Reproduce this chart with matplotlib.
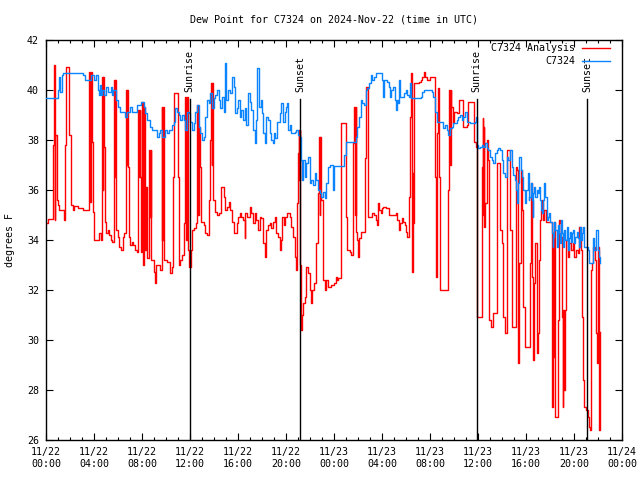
import matplotlib
matplotlib.use("Agg")
import matplotlib.pyplot as plt
import matplotlib.transforms as mtransforms

# ---------------- data (hours since 2024-11-22 00:00 UTC, degrees F) -------------
red_h = [0.00, 0.14, 0.61, 0.67, 0.72, 0.75, 0.78, 0.89, 0.97, 1.06, 1.50, 1.61, 1.67, 1.94,
         2.06, 2.22, 2.36, 2.64, 3.06, 3.61, 3.66, 3.72, 3.83, 3.89, 4.03, 4.39, 4.58, 4.67,
         4.72, 4.76, 4.81, 4.89, 5.00, 5.14, 5.28, 5.42, 5.50, 5.64, 5.69, 5.74, 5.78, 5.83,
         5.97, 6.11, 6.25, 6.39, 6.53, 6.67, 6.69, 6.74, 6.78, 6.81, 6.89, 7.00, 7.17, 7.28,
         7.44, 7.58, 7.67, 7.69, 7.75, 7.80, 7.83, 7.94,
         8.00, 8.08, 8.14, 8.22, 8.33, 8.42, 8.61, 8.69, 8.72, 8.78, 8.97, 9.06, 9.17, 9.53,
         9.64, 9.70, 9.75, 9.83, 10.08, 10.36, 10.50, 10.61, 10.69, 10.92, 10.97, 11.06, 11.19,
         11.33, 11.47, 11.61, 11.67, 11.72, 11.83, 11.94, 12.11, 12.17, 12.31, 12.53, 12.61,
         12.67, 12.72, 12.86, 12.94, 13.14, 13.28, 13.42, 13.56, 13.69, 13.75, 13.80, 13.83,
         13.92, 14.06, 14.25, 14.44, 14.61, 14.81, 14.94, 15.08, 15.22, 15.36, 15.50, 15.64,
         15.92,
         16.00, 16.14, 16.28, 16.42, 16.56, 16.61, 16.78, 16.97, 17.11, 17.25, 17.39, 17.53,
         17.67, 17.81, 17.94, 18.08, 18.22, 18.36, 18.50, 18.64, 18.78, 18.92, 19.06, 19.19,
         19.33, 19.47, 19.61, 19.69, 19.83, 19.94, 20.11, 20.31, 20.44, 20.58, 20.72, 20.86,
         20.94, 21.03, 21.08, 21.12, 21.15, 21.17, 21.22, 21.28, 21.33, 21.42, 21.56, 21.69,
         21.83, 21.97, 22.06, 22.17, 22.33, 22.53, 22.67, 22.75, 22.80, 22.83, 22.94, 23.08,
         23.22, 23.36, 23.50, 23.78,
         24.00, 24.14, 24.22, 24.33, 24.61, 24.97, 25.06, 25.33, 25.44, 25.56, 25.67, 25.75,
         25.80, 25.83, 25.94, 26.00, 26.08, 26.22, 26.61, 26.67, 26.86, 27.19, 27.33, 27.47,
         27.56, 27.67, 27.75, 27.89, 27.97, 28.11, 28.31, 28.58, 29.00, 29.14, 29.28, 29.42,
         29.50, 29.64, 29.78, 29.89, 29.97, 30.11, 30.25, 30.33, 30.42, 30.47, 30.53, 30.58,
         30.61, 30.67, 31.08, 31.22, 31.36, 31.50, 31.58, 31.78,
         32.00, 32.42, 32.53, 32.58, 32.69, 32.78, 32.83, 33.53, 33.61, 33.67, 33.72, 33.78,
         33.89, 34.00, 34.22, 34.42, 34.69, 34.78, 35.11, 35.17, 35.56, 35.64, 35.83, 35.89,
         36.22, 36.31, 36.36, 36.39, 36.44, 36.47, 36.50, 36.58, 36.72, 36.86, 36.94, 37.06,
         37.22, 37.42, 37.56, 37.69, 37.83, 37.97, 38.11, 38.25, 38.39, 38.53, 38.67, 38.81,
         39.08, 39.17, 39.28, 39.36, 39.44, 39.56, 39.64, 39.78, 39.92,
         40.00, 40.33, 40.42, 40.50, 40.56, 40.69, 40.78, 40.89, 40.97, 41.06, 41.17, 41.25,
         41.33, 41.44, 41.53, 41.67, 42.17, 42.22, 42.28, 42.36, 42.44, 42.64, 42.72, 42.83,
         42.92, 43.00, 43.06, 43.11, 43.19, 43.28, 43.33, 43.47, 43.61, 43.75, 43.89, 44.03,
         44.17, 44.31, 44.44, 44.58, 44.67, 44.78, 44.86, 45.00, 45.14, 45.22, 45.33, 45.42,
         45.50, 45.56, 45.69, 45.78, 45.83, 45.89, 45.97, 46.06, 46.11, 46.17]
red_v = [34.67, 34.83, 37.8, 41.0, 34.8, 41.0, 38.2, 35.6, 35.4, 35.2, 34.8, 37.8, 40.9, 38.2,
         35.4, 35.2, 35.35, 35.3, 35.2, 40.7, 35.5, 40.7, 37.9, 35.1, 34.0, 34.3, 34.0, 40.5,
         36.0, 40.5, 37.7, 34.7, 34.3, 34.4, 34.2, 34.0, 33.9, 37.2, 40.4, 36.5, 40.4, 34.4,
         34.1, 33.7, 33.6, 34.1, 34.3, 37.2, 40.0, 37.0, 40.0, 36.9, 34.1, 33.8, 33.9, 33.8,
         33.6, 33.5, 36.5, 39.2, 36.5, 39.2, 36.5, 33.5,
         39.5, 33.0, 39.3, 33.6, 36.1, 33.3, 37.6, 34.9, 37.6, 33.2, 32.7, 32.3, 33.0, 32.8,
         39.33, 34.0, 39.33, 33.2, 33.13, 32.67, 32.93, 36.5, 39.87, 39.87, 36.5, 33.0, 33.2,
         33.4, 34.67, 39.7, 34.0, 39.7, 33.6, 32.93, 33.6, 34.4, 34.47, 34.67, 39.4,
         35.0, 38.5, 36.93, 34.73, 34.6, 34.27, 34.2, 35.6, 38.0, 40.27, 37.0, 40.27,
         35.6, 35.13, 35.0, 35.07, 36.13, 35.73, 35.2, 35.33, 35.53, 35.2, 34.73, 34.27,
         34.67,
         34.93, 35.07, 34.93, 34.8, 34.07, 35.07, 34.93, 35.33, 35.07, 34.67, 35.07, 34.8,
         34.4, 34.93, 34.87, 33.87, 33.33, 34.4, 34.6, 34.67, 34.47, 34.73, 34.93, 34.27,
         34.13, 33.6, 34.0, 34.93, 34.6, 34.93, 35.07, 34.93, 34.53, 34.13, 33.33, 32.8,
         35.47, 37.47, 38.4, 36.4, 38.4, 33.0, 31.33, 30.4, 31.0, 31.47, 31.73, 32.93,
         32.67, 32.0, 31.47, 32.0, 32.27, 33.87, 35.87, 38.13, 35.0, 38.13, 35.6, 32.4,
         32.0, 32.4, 32.13, 32.2,
         32.27, 32.53, 32.4, 32.47, 38.67, 34.93, 33.6, 33.53, 33.4, 37.87, 39.33, 35.0,
         39.33, 34.33, 34.0, 33.33, 34.07, 34.33, 37.27, 40.13, 34.93, 35.07, 35.0, 34.8,
         34.6, 35.47, 35.2, 35.07, 35.27, 35.33, 35.27, 35.0, 35.0, 35.07, 34.8, 34.4,
         34.67, 34.87, 34.73, 34.6, 34.33, 34.13, 35.73, 38.93, 40.67, 36.5, 32.73, 36.67,
         34.67, 40.27, 40.33, 40.4, 40.53, 40.73, 40.53, 40.4,
         40.53, 36.5, 32.5, 38.27, 40.07, 36.5, 32.0, 36.0, 40.0, 37.0, 40.0, 39.33,
         38.67, 39.13, 39.07, 39.6, 39.6, 38.53, 38.6, 39.53, 39.53, 37.93, 37.73, 30.93,
         30.93, 32.93, 36.93, 38.87, 35.0, 38.5, 34.53, 35.47, 38.0, 37.2, 30.8, 30.53,
         31.07, 31.07, 37.07, 37.07, 34.4, 33.87, 30.93, 30.27, 37.6, 37.6, 34.4, 30.53,
         30.53, 36.93, 36.8, 29.07, 33.07, 36.8, 35.2, 31.33, 29.73,
         29.73, 33.07, 36.27, 32.53, 29.2, 32.27, 33.87, 29.47, 30.27, 33.2, 34.8, 35.2,
         35.6, 34.8, 35.2, 34.73, 27.33, 34.27, 29.33, 34.73, 26.93, 30.8, 34.8, 34.67,
         34.13, 30.93, 27.33, 31.2, 28.0, 31.2, 34.0, 33.33, 33.87, 33.6, 33.87, 33.33,
         33.6, 33.47, 34.53, 33.6, 30.93, 28.4, 27.33, 27.2, 26.93, 26.53, 26.4, 32.8,
         33.07, 33.73, 33.73, 33.2, 30.27, 29.07, 33.73, 30.13, 26.4, 30.3]

blue_h = [0.00, 1.00, 1.10, 1.20, 1.30, 1.40, 3.05, 3.25, 3.75, 4.00, 4.15, 4.30, 4.40, 4.50,
          4.60, 4.70, 4.85, 5.00, 5.20, 5.40, 5.50, 5.60, 5.80, 6.00, 6.20, 6.60, 6.75, 7.00,
          7.20, 7.60, 7.90,
          8.00, 8.14, 8.28, 8.42, 8.69, 8.83, 9.25, 9.39, 9.53, 9.67, 9.94, 10.08, 10.22, 10.50,
          10.64, 10.78, 10.92, 11.06, 11.19, 11.33, 11.47, 11.61, 11.75, 11.89, 12.03, 12.17,
          12.31, 12.44, 12.58, 12.72, 12.86, 13.00, 13.14, 13.28, 13.42, 13.56, 13.69, 13.83,
          13.97, 14.11, 14.25, 14.39, 14.53, 14.67, 14.81, 14.94, 15.03, 15.17, 15.36, 15.50,
          15.64, 15.78, 15.92,
          16.00, 16.14, 16.28, 16.42, 16.56, 16.69, 16.83, 16.97, 17.11, 17.25, 17.39, 17.53,
          17.61, 17.72, 17.89, 18.00, 18.08, 18.22, 18.36, 18.50, 18.64, 18.78, 18.92, 19.00,
          19.11, 19.28, 19.47, 19.61, 19.75, 19.89, 20.03, 20.11, 20.17, 20.31, 20.44, 20.72,
          20.86, 21.00, 21.17, 21.22, 21.33, 21.42, 21.56, 21.69, 21.83, 21.97, 22.11, 22.25,
          22.39, 22.53, 22.67, 22.81, 22.94, 23.08, 23.22, 23.36, 23.50, 23.64, 23.95,
          24.02, 24.83, 24.97, 25.81, 25.89, 26.08, 26.22, 26.36, 26.50, 26.64, 26.78, 26.92,
          27.06, 27.19, 27.33, 27.47, 28.03, 28.11, 28.17, 28.44, 28.58, 28.67, 28.78, 28.94,
          29.06, 29.14, 29.22, 29.33, 29.42, 29.50, 29.83, 29.97, 30.11, 30.25, 30.33, 30.44,
          31.22, 31.36, 31.50,
          32.00, 32.14, 32.28, 32.42, 32.56, 33.11, 33.25, 33.39, 33.53, 33.67, 33.81, 33.94,
          34.22, 34.36, 34.50, 34.64, 34.78, 34.92, 35.06, 35.33, 35.75, 35.83, 35.89, 36.03,
          36.17, 36.31, 36.44, 36.58, 36.72, 36.86, 37.00, 37.14, 37.28, 37.42, 37.56, 37.69,
          37.83, 37.97, 38.06, 38.25, 38.39, 38.53, 38.67, 38.81, 38.94, 39.08, 39.17, 39.28,
          39.36, 39.44, 39.56, 39.64, 39.78, 39.92,
          40.00, 40.14, 40.22, 40.28, 40.42, 40.50, 40.56, 40.61, 40.69, 40.78, 40.89, 40.97,
          41.06, 41.17, 41.25, 41.33, 41.44, 41.53, 41.61, 41.72, 41.81, 41.89, 42.00, 42.17,
          42.22, 42.28, 42.36, 42.44, 42.56, 42.64, 42.72, 42.83, 42.92, 43.00, 43.11, 43.19,
          43.28, 43.39, 43.47, 43.56, 43.67, 43.75, 43.83, 43.94, 44.03, 44.11, 44.22, 44.31,
          44.39, 44.50, 44.58, 44.67, 44.78, 44.86, 45.14, 45.22, 45.56, 45.69, 45.83, 45.97,
          46.06, 46.17]
blue_v = [39.67, 40.00, 40.50, 39.90, 40.60, 40.67, 40.60, 40.40, 40.60, 40.40, 40.60, 40.00,
          39.80, 40.20, 39.80, 40.00, 39.80, 40.10, 39.90, 40.10, 39.80, 40.00, 39.60, 39.30,
          39.10, 38.90, 39.10, 39.30, 39.10, 39.40, 39.50,
          39.53, 39.33, 39.07, 38.80, 38.53, 38.40, 38.13, 38.27, 38.40, 38.13, 38.40, 38.27,
          38.40, 38.60, 38.73, 39.27, 39.13, 39.00, 38.80, 39.00, 38.80, 38.40, 39.13, 39.07,
          38.73, 38.40, 38.67, 39.13, 39.40, 38.53, 38.27, 38.00, 38.13, 38.93, 39.60, 39.47,
          39.87, 39.27, 39.67, 39.80, 40.00, 39.60, 39.27, 39.73, 39.13, 41.07, 39.60, 40.00,
          39.87, 40.53, 40.13, 39.07, 39.27,
          39.60, 38.93, 39.20, 38.80, 39.27, 38.60, 39.87, 39.53, 39.20, 38.40, 37.87, 38.80,
          40.87, 39.33, 39.60, 39.07, 38.27, 37.87, 38.93, 38.80, 38.27, 38.00, 37.87, 38.27,
          38.07, 38.73, 39.07, 39.47, 38.73, 39.13, 39.33, 39.47, 38.40, 38.60, 38.27, 38.33,
          38.40, 38.20, 38.13, 37.20, 36.40, 37.20, 36.53, 37.07, 37.33, 36.27, 36.40, 36.20,
          36.67, 36.40, 36.00, 35.87, 35.73, 35.93, 35.67, 36.27, 36.93, 37.00, 36.00,
          36.96, 37.40, 37.93, 38.13, 38.53, 38.93, 39.60, 39.47, 39.40, 40.00, 40.07, 40.27,
          40.60, 40.40, 40.53, 40.67, 40.40, 39.73, 40.40, 40.33, 40.13, 39.73, 40.00, 40.13,
          39.60, 39.20, 39.60, 39.47, 40.40, 39.73, 39.87, 40.00, 39.80, 39.73, 40.27, 39.67,
          39.73, 39.93, 40.00,
          40.00, 39.93, 39.73, 39.13, 38.73, 38.47, 38.60, 38.40, 38.20, 38.47, 38.53, 38.67,
          38.80, 38.93, 39.00, 38.80, 38.93, 39.13, 38.73, 38.67, 38.73, 38.93, 37.80, 37.67,
          37.73, 37.80, 37.73, 37.87, 37.67, 37.60, 37.33, 37.20, 37.07, 37.47, 37.60, 37.67,
          37.60, 37.20, 36.67, 36.53, 37.33, 37.20, 37.60, 36.93, 36.60, 36.40, 36.00, 35.47,
          36.27, 37.33, 36.80, 36.53, 36.00, 35.47,
          36.00, 36.67, 35.60, 35.73, 36.27, 35.60, 34.93, 35.87, 36.13, 35.73, 36.00, 35.87,
          36.13, 35.60, 35.20, 35.07, 35.60, 36.27, 35.73, 34.80, 34.93, 35.07, 34.73, 34.27,
          33.73, 34.13, 34.73, 34.40, 33.73, 34.60, 34.27, 33.87, 34.80, 34.27, 33.73, 34.40,
          34.00, 34.53, 33.60, 34.07, 34.33, 33.93, 34.27, 34.40, 33.87, 34.13, 34.33, 34.07,
          33.73, 34.53, 34.00, 34.27, 34.53, 33.73, 33.60, 33.07, 34.07, 33.60, 34.40, 33.60,
          33.33, 33.07]

sun_events = ["Sunrise", "Sunset", "Sunrise", "Sunset"]
sun_hours = [11.97, 21.17, 35.88, 45.10]

x_ticks = [0, 4, 8, 12, 16, 20, 24, 28, 32, 36, 40, 44, 48]
x_labels = ["11/22\n00:00", "11/22\n04:00", "11/22\n08:00", "11/22\n12:00", "11/22\n16:00",
            "11/22\n20:00", "11/23\n00:00", "11/23\n04:00", "11/23\n08:00", "11/23\n12:00",
            "11/23\n16:00", "11/23\n20:00", "11/24\n00:00"]
y_ticks = [26, 28, 30, 32, 34, 36, 38, 40, 42]

# ---------------- drawing ----------------
FONT = "DejaVu Sans Mono"
FS = 7.2
plt.rcParams["font.family"] = FONT
plt.rcParams["font.size"] = FS

fig = plt.figure(figsize=(6.4, 4.8), dpi=100)
ax = fig.add_axes([46 / 640, 1 - 440 / 480, 576 / 640, 400 / 480])

ax.plot(red_h, red_v, drawstyle="steps-post", color="#ff0000", lw=1.0,
        label="C7324 Analysis", zorder=2)
ax.plot(blue_h, blue_v, drawstyle="steps-post", color="#0a84ff", lw=1.0,
        label="C7324", zorder=3)

trans = mtransforms.blended_transform_factory(ax.transData, ax.transAxes)
for name, h in zip(sun_events, sun_hours):
    ax.axvline(h, ymin=0, ymax=0.853, color="black", lw=1.0, zorder=4)
    ax.text(h, 0.87, name, rotation=90, ha="center", va="bottom",
            transform=trans, fontsize=FS)

ax.set_xlim(0, 48)
ax.set_ylim(26, 42)
ax.set_xticks(x_ticks)
ax.set_xticklabels(x_labels)
ax.set_xticks(range(0, 49), minor=True)
ax.set_yticks(y_ticks)
ax.set_yticklabels([str(v) for v in y_ticks])

ax.tick_params(axis="both", which="major", direction="in", length=5, width=0.8,
               top=True, right=True, labelsize=FS, pad=5)
ax.tick_params(axis="x", which="minor", direction="in", length=2.5, width=0.8,
               top=True, bottom=True)
ax.tick_params(axis="y", which="minor", left=False, right=False)
for s in ax.spines.values():
    s.set_linewidth(1.0)

ax.set_ylabel("degrees F", fontsize=FS, labelpad=9)

fig.text(334 / 640, 1 - 19 / 480, "Dew Point for C7324 on 2024-Nov-22 (time in UTC)",
         ha="center", va="center", fontsize=FS)

ax.legend(loc="upper right", bbox_to_anchor=(610 / 640, 1 - 43 / 480),
          bbox_transform=fig.transFigure, frameon=False, markerfirst=False,
          handlelength=2.8, handletextpad=0.7, labelspacing=0.35,
          borderaxespad=0, borderpad=0, fontsize=FS)

fig.savefig("out.png", dpi=100)
